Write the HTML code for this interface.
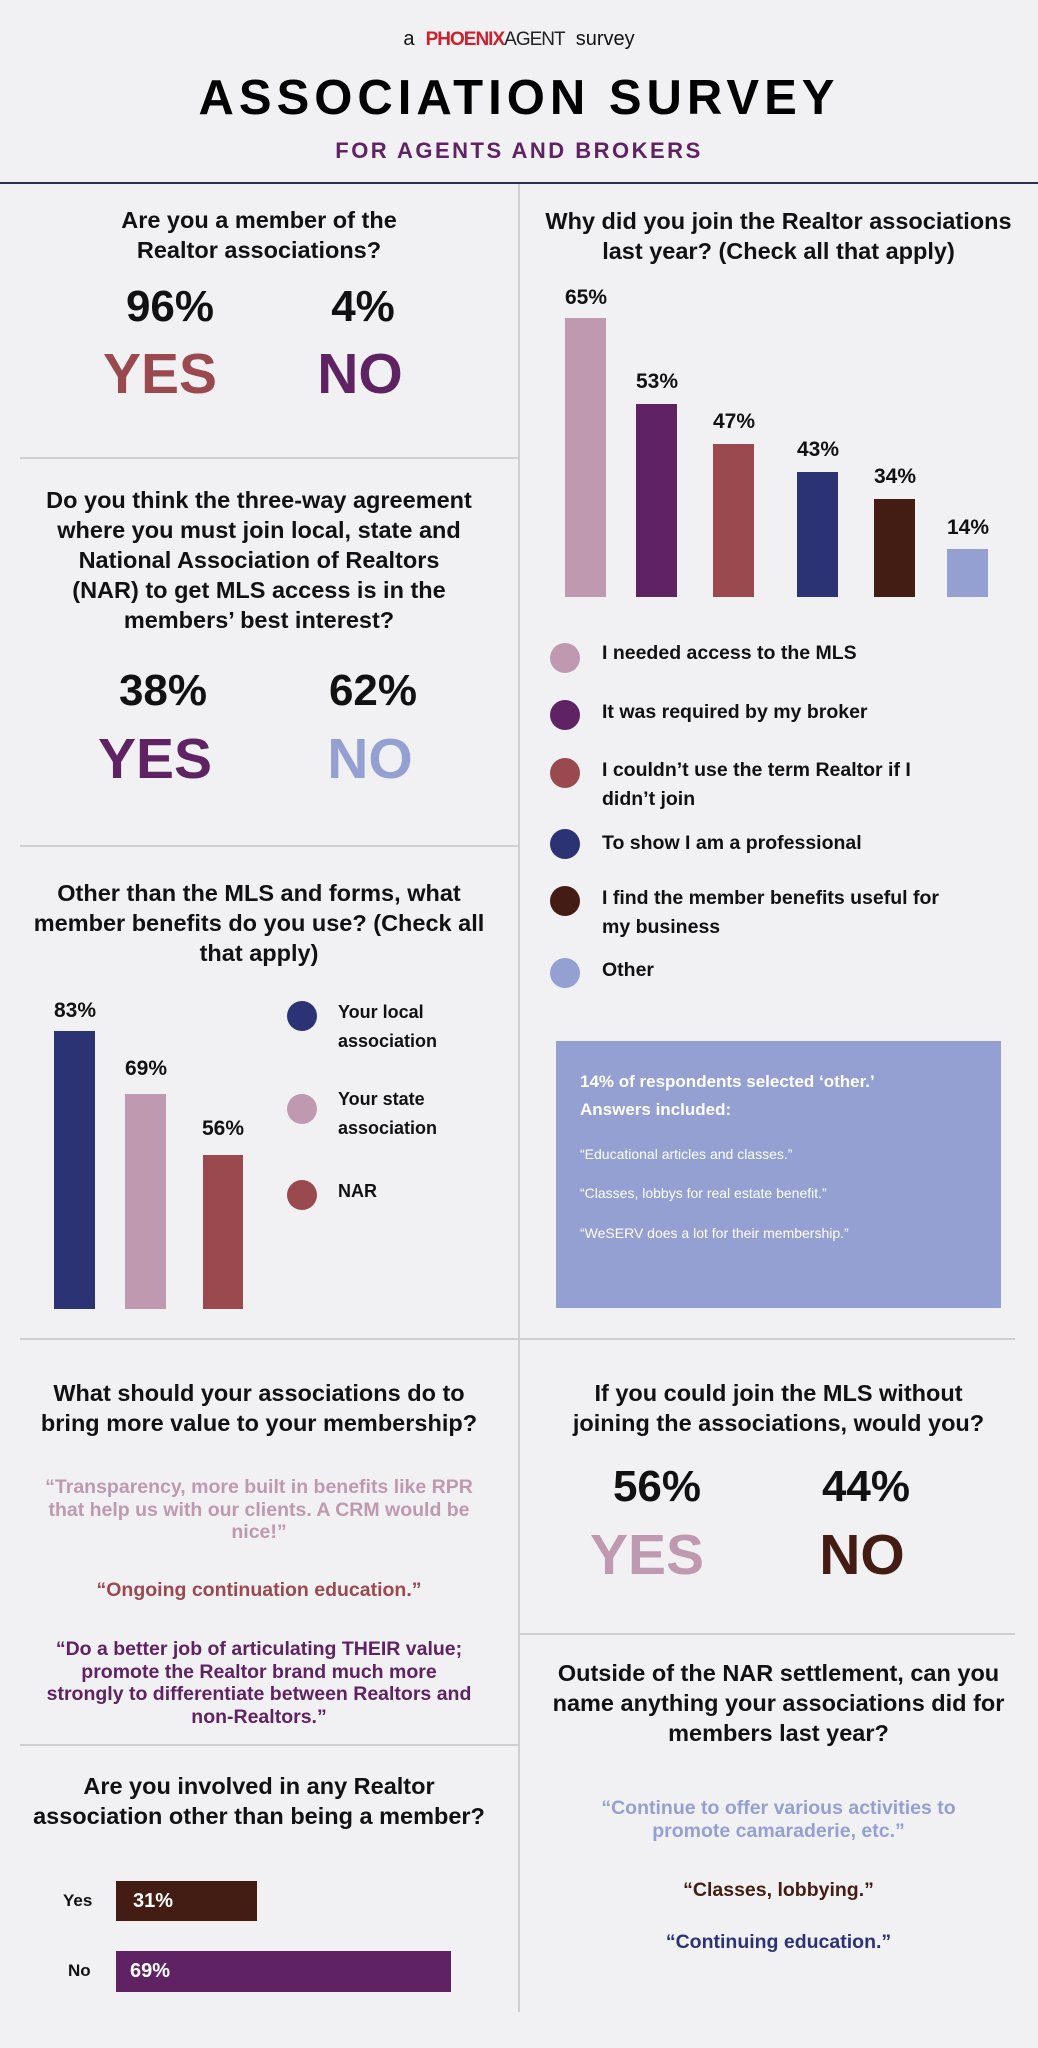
<!DOCTYPE html>
<html><head><meta charset="utf-8"><style>
body{margin:0;background:#f1f1f3;}
#p{position:relative;width:1038px;height:2048px;background:#f1f1f3;overflow:hidden;font-family:"Liberation Sans",sans-serif;font-weight:bold;color:#111;}
.a{position:absolute;white-space:nowrap;}
.c{text-align:center;}
.q{font-size:23.5px;line-height:30px;}
.big{font-size:44px;line-height:44px;width:200px;text-align:center;}
.yn{font-size:57px;line-height:60px;width:240px;text-align:center;}
.hl{position:absolute;background:#cfcfd3;height:2px;}
.bar{position:absolute;}
.pl{position:absolute;font-size:21px;width:80px;text-align:center;line-height:24px;}
.dot{position:absolute;width:30px;height:30px;border-radius:50%;}
.lt{position:absolute;font-size:19.5px;line-height:29px;white-space:nowrap;}
.ll{position:absolute;font-size:18px;line-height:29px;white-space:nowrap;}
.qt{position:absolute;font-size:19.5px;line-height:22.5px;text-align:center;white-space:nowrap;}
</style></head><body><div id="p">
<div class="a c" style="left:0;width:1038px;top:26px;font-size:20px;font-weight:normal;line-height:26px;">a&nbsp;&nbsp;<span style="color:#d0202e;font-weight:bold;font-size:19px;letter-spacing:-1px;">PHOENIX</span><span style="color:#222;font-size:19px;letter-spacing:-1px;font-weight:normal;">AGENT</span>&nbsp;&nbsp;survey</div>
<div class="a c" style="left:0;width:1038px;top:72px;font-size:49px;line-height:52px;letter-spacing:5px;color:#000;">ASSOCIATION SURVEY</div>
<div class="a c" style="left:0;width:1038px;top:138px;font-size:22px;line-height:26px;letter-spacing:2.5px;color:#5f2262;">FOR AGENTS AND BROKERS</div>
<div style="position:absolute;left:0;top:182px;width:1038px;height:2px;background:#2c3050;"></div>
<div style="position:absolute;left:518px;top:184px;width:2px;height:1828px;background:#cfcfd3;"></div>

<!-- Left Q1 -->
<div class="a c q" style="left:0;width:518px;top:205px;">Are you a member of the<br>Realtor associations?</div>
<div class="a big" style="left:70px;top:285px;">96%</div>
<div class="a big" style="left:263px;top:285px;">4%</div>
<div class="a yn" style="left:40px;top:344px;color:#9a4a4f;">YES</div>
<div class="a yn" style="left:240px;top:344px;color:#5f2262;">NO</div>
<div class="hl" style="left:20px;top:457px;width:498px;"></div>

<!-- Left Q2 -->
<div class="a c q" style="left:0;width:518px;top:485px;">Do you think the three-way agreement<br>where you must join local, state and<br>National Association of Realtors<br>(NAR) to get MLS access is in the<br>members’ best interest?</div>
<div class="a big" style="left:63px;top:669px;">38%</div>
<div class="a big" style="left:273px;top:669px;">62%</div>
<div class="a yn" style="left:35px;top:729px;color:#5f2262;">YES</div>
<div class="a yn" style="left:250px;top:729px;color:#94a0d2;">NO</div>
<div class="hl" style="left:20px;top:845px;width:498px;"></div>

<!-- Left Q3 -->
<div class="a c q" style="left:0;width:518px;top:878px;">Other than the MLS and forms, what<br>member benefits do you use? (Check all<br>that apply)</div>
<div class="bar" style="left:54px;top:1031px;width:41px;height:278px;background:#2c3375;"></div>
<div class="bar" style="left:125px;top:1094px;width:41px;height:215px;background:#bf99b0;"></div>
<div class="bar" style="left:203px;top:1155px;width:40px;height:154px;background:#9a4a4f;"></div>
<div class="pl" style="left:35px;top:999px;">83%</div>
<div class="pl" style="left:106px;top:1057px;">69%</div>
<div class="pl" style="left:183px;top:1117px;">56%</div>
<div class="dot" style="left:287px;top:1001px;background:#2c3375;"></div>
<div class="dot" style="left:287px;top:1094px;background:#bf99b0;"></div>
<div class="dot" style="left:287px;top:1180px;background:#9a4a4f;"></div>
<div class="ll" style="left:338px;top:998px;">Your local<br>association</div>
<div class="ll" style="left:338px;top:1085px;">Your state<br>association</div>
<div class="ll" style="left:338px;top:1177px;">NAR</div>

<!-- Right Q -->
<div class="a c q" style="left:519px;width:519px;top:206px;">Why did you join the Realtor associations<br>last year? (Check all that apply)</div>
<div class="bar" style="left:565px;top:318px;width:41px;height:279px;background:#bf99b0;"></div>
<div class="bar" style="left:636px;top:404px;width:41px;height:193px;background:#5f2262;"></div>
<div class="bar" style="left:713px;top:444px;width:41px;height:153px;background:#9a4a4f;"></div>
<div class="bar" style="left:797px;top:472px;width:41px;height:125px;background:#2c3375;"></div>
<div class="bar" style="left:874px;top:499px;width:41px;height:98px;background:#431c13;"></div>
<div class="bar" style="left:947px;top:549px;width:41px;height:48px;background:#94a0d2;"></div>
<div class="pl" style="left:546px;top:286px;">65%</div>
<div class="pl" style="left:617px;top:370px;">53%</div>
<div class="pl" style="left:694px;top:410px;">47%</div>
<div class="pl" style="left:778px;top:438px;">43%</div>
<div class="pl" style="left:855px;top:465px;">34%</div>
<div class="pl" style="left:928px;top:516px;">14%</div>
<div class="dot" style="left:550px;top:643px;background:#bf99b0;"></div>
<div class="dot" style="left:550px;top:700px;background:#5f2262;"></div>
<div class="dot" style="left:550px;top:758px;background:#9a4a4f;"></div>
<div class="dot" style="left:550px;top:829px;background:#2c3375;"></div>
<div class="dot" style="left:550px;top:886px;background:#431c13;"></div>
<div class="dot" style="left:550px;top:958px;background:#94a0d2;"></div>
<div class="lt" style="left:602px;top:639px;">I needed access to the MLS</div>
<div class="lt" style="left:602px;top:698px;">It was required by my broker</div>
<div class="lt" style="left:602px;top:756px;">I couldn’t use the term Realtor if I<br>didn’t join</div>
<div class="lt" style="left:602px;top:829px;">To show I am a professional</div>
<div class="lt" style="left:602px;top:884px;">I find the member benefits useful for<br>my business</div>
<div class="lt" style="left:602px;top:956px;">Other</div>
<div style="position:absolute;left:556px;top:1041px;width:445px;height:267px;background:#94a0d2;"></div>
<div class="a" style="left:580px;top:1068px;font-size:17px;line-height:28px;color:#fff;">14% of respondents selected ‘other.’<br>Answers included:</div>
<div class="a" style="left:580px;top:1143px;font-size:14px;line-height:22px;color:#fff;font-weight:normal;">“Educational articles and classes.”</div>
<div class="a" style="left:580px;top:1182px;font-size:14px;line-height:22px;color:#fff;font-weight:normal;">“Classes, lobbys for real estate benefit.”</div>
<div class="a" style="left:580px;top:1222px;font-size:14px;line-height:22px;color:#fff;font-weight:normal;">“WeSERV does a lot for their membership.”</div>
<div class="hl" style="left:20px;top:1338px;width:995px;"></div>

<!-- Left Q4 -->
<div class="a c q" style="left:0;width:518px;top:1378px;">What should your associations do to<br>bring more value to your membership?</div>
<div class="qt" style="left:0;width:518px;top:1476px;color:#bf99b0;">“Transparency, more built in benefits like RPR<br>that help us with our clients. A CRM would be<br>nice!”</div>
<div class="qt" style="left:0;width:518px;top:1579px;color:#9a4a4f;">“Ongoing continuation education.”</div>
<div class="qt" style="left:0;width:518px;top:1638px;color:#5f2262;">“Do a better job of articulating THEIR value;<br>promote the Realtor brand much more<br>strongly to differentiate between Realtors and<br>non-Realtors.”</div>
<div class="hl" style="left:20px;top:1744px;width:498px;"></div>

<!-- Left Q5 -->
<div class="a c q" style="left:0;width:518px;top:1771px;">Are you involved in any Realtor<br>association other than being a member?</div>
<div class="a" style="left:63px;top:1889px;font-size:17px;line-height:24px;">Yes</div>
<div class="a" style="left:68px;top:1959px;font-size:17px;line-height:24px;">No</div>
<div class="bar" style="left:116px;top:1881px;width:141px;height:40px;background:#431c13;"></div>
<div class="bar" style="left:116px;top:1951px;width:335px;height:41px;background:#5f2262;"></div>
<div class="a" style="left:133px;top:1889px;font-size:20px;line-height:24px;color:#fff;">31%</div>
<div class="a" style="left:130px;top:1959px;font-size:20px;line-height:24px;color:#fff;">69%</div>

<!-- Right Q6 -->
<div class="a c q" style="left:519px;width:519px;top:1378px;">If you could join the MLS without<br>joining the associations, would you?</div>
<div class="a big" style="left:557px;top:1465px;">56%</div>
<div class="a big" style="left:766px;top:1465px;">44%</div>
<div class="a yn" style="left:527px;top:1525px;color:#bf99b0;">YES</div>
<div class="a yn" style="left:742px;top:1525px;color:#431c13;">NO</div>
<div class="hl" style="left:519px;top:1633px;width:496px;"></div>

<!-- Right Q7 -->
<div class="a c q" style="left:519px;width:519px;top:1658px;">Outside of the NAR settlement, can you<br>name anything your associations did for<br>members last year?</div>
<div class="qt" style="left:519px;width:519px;top:1797px;color:#94a0d2;">“Continue to offer various activities to<br>promote camaraderie, etc.”</div>
<div class="qt" style="left:519px;width:519px;top:1879px;color:#431c13;">“Classes, lobbying.”</div>
<div class="qt" style="left:519px;width:519px;top:1931px;color:#2c3375;">“Continuing education.”</div>
</div></body></html>
